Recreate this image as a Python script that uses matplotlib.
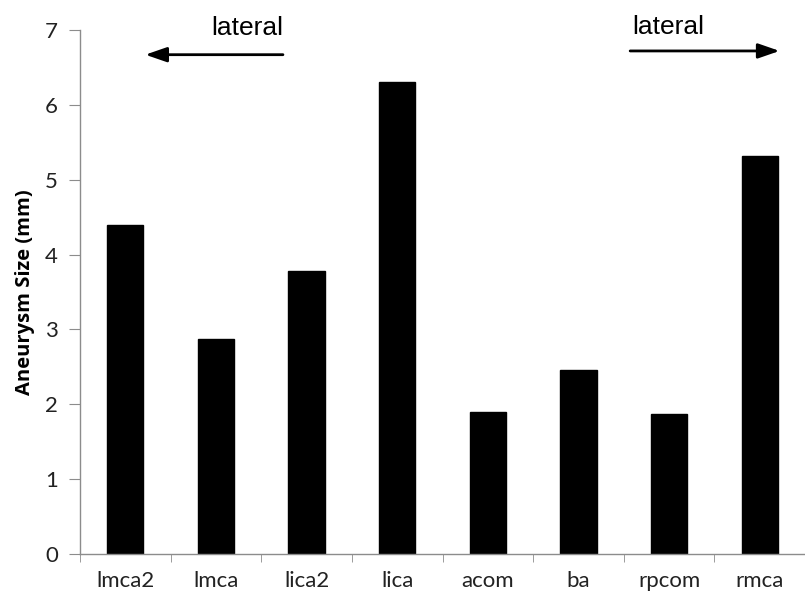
import matplotlib
matplotlib.use("Agg")
import matplotlib.pyplot as plt
import numpy as np

# Data
sites = ["lmca2", "lmca", "lica2", "lica", "acom", "ba", "rpcom", "rmca"]
sizes = [4.39, 2.87, 3.78, 6.31, 1.89, 2.46, 1.87, 5.31]
y_ticks = [0, 1, 2, 3, 4, 5, 6, 7]

axis_grey = "#8c8c8c"
tick_font = "Lato"

fig = plt.figure(figsize=(8.05, 5.95), dpi=100)
ax = fig.add_axes([0.0994, 0.069, 0.9006, 0.8806])

x = np.arange(len(sites))
ax.bar(x, sizes, width=0.4, color="black", edgecolor="black")

ax.set_xlim(-0.5, len(sites) - 0.5)
ax.set_ylim(0, 7)
ax.set_yticks(y_ticks)
ax.set_yticklabels([str(t) for t in y_ticks], fontsize=16, family=tick_font, color="#222222")

# category labels centred, tick marks between categories
ax.set_xticks(x)
ax.set_xticklabels(sites, fontsize=16, family=tick_font, color="#222222")
ax.tick_params(axis="x", which="major", length=0, pad=12)
ax.set_xticks(np.arange(len(sites) + 1) - 0.5, minor=True)
ax.tick_params(axis="x", which="minor", length=6, color=axis_grey, direction="out")
ax.tick_params(axis="y", length=8, color=axis_grey, direction="out", pad=8)

for side in ["top", "right"]:
    ax.spines[side].set_visible(False)
for side in ["left", "bottom"]:
    ax.spines[side].set_color(axis_grey)
    ax.spines[side].set_linewidth(1.0)

ax.set_ylabel("Aneurysm Size (mm)", fontsize=14.5, fontweight="bold",
              family="Open Sans", labelpad=7)

# "lateral" direction markers
arrow = dict(arrowstyle="-|>,head_length=1.3,head_width=0.45", color="black", lw=2)
ax.annotate("", xy=(0.19, 6.67), xytext=(1.77, 6.67), arrowprops=arrow,
            annotation_clip=False)
ax.text(1.34, 7.02, "lateral", fontsize=19, family="Liberation Sans",
        ha="center", va="center", clip_on=False)
ax.annotate("", xy=(7.25, 6.72), xytext=(5.54, 6.72), arrowprops=arrow,
            annotation_clip=False)
ax.text(5.59, 7.04, "lateral", fontsize=19, family="Liberation Sans",
        ha="left", va="center", clip_on=False)

fig.savefig("out.png", dpi=100)
